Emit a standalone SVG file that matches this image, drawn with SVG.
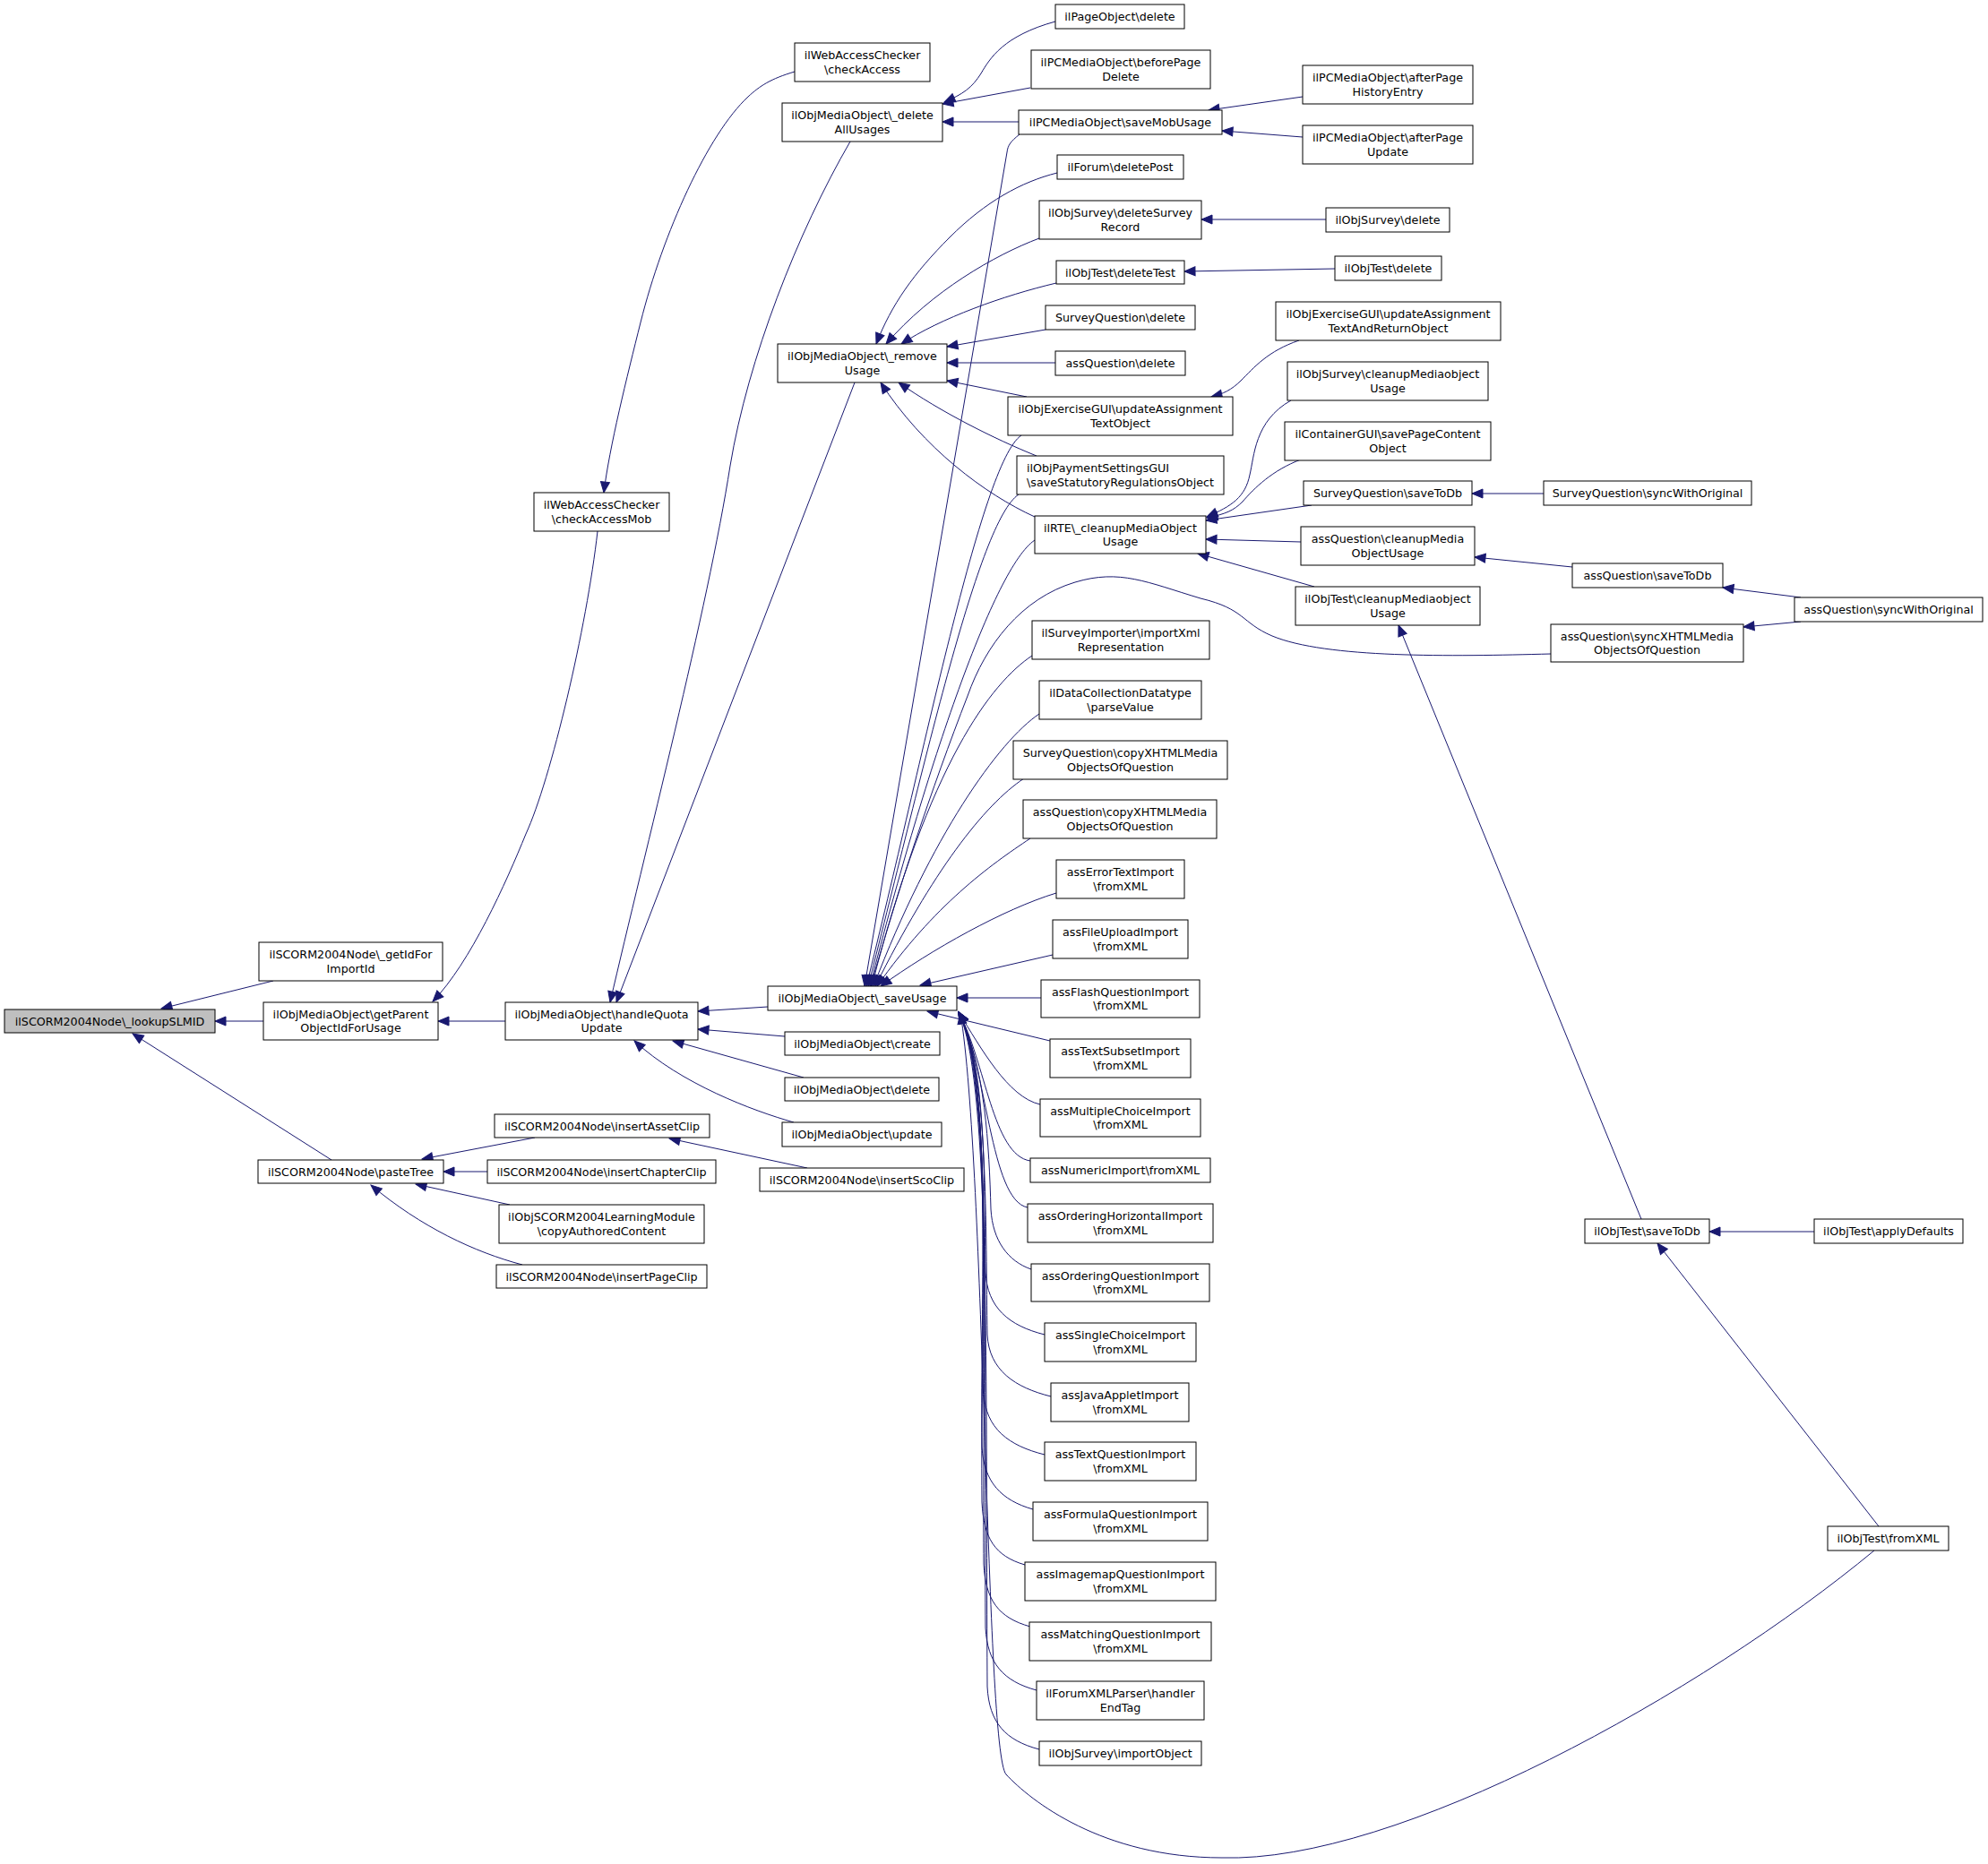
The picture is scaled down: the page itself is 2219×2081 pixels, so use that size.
<svg xmlns="http://www.w3.org/2000/svg" width="2219" height="2081" viewBox="0 0 2219 2081">
<style>
.n rect{fill:#fff;stroke:#000;stroke-width:1}
.n text{font-family:"DejaVu Sans",sans-serif;font-size:12.7px;text-anchor:middle;fill:#000}
.n text.l{text-anchor:start}
.e path{fill:none;stroke:#191970;stroke-width:1;marker-end:url(#ah)}
</style>
<defs>
<marker id="ah" markerUnits="userSpaceOnUse" markerWidth="14" markerHeight="12" refX="12" refY="5" orient="auto" overflow="visible">
<path d="M0,0 L12,5 L0,10 Z" fill="#191970" stroke="#191970" stroke-width="1"/>
</marker>
</defs>
<rect x="0" y="0" width="2219" height="2081" fill="#fff"/>
<g id="edges" class="e">
<path d="M305,1095 L180,1126"/>
<path d="M294,1140 L240,1140"/>
<path d="M370,1295 L148,1154"/>
<path d="M667,593 C655,700 615,870 587,931 C565,985 525,1075 483,1118"/>
<path d="M564,1140 L489,1140"/>
<path d="M597,1270 L471,1294"/>
<path d="M544,1308 L495,1308"/>
<path d="M569,1345 L464,1322"/>
<path d="M583,1412 C530,1398 470,1370 414,1323"/>
<path d="M887,80 C860,88 848,96 835,108 C790,150 740,260 715,360 C700,420 680,500 674,550"/>
<path d="M949,158 C890,260 835,400 815,520 C790,680 720,950 681,1119"/>
<path d="M954,427 L688,1119"/>
<path d="M857,1124 L779,1129"/>
<path d="M876,1157 L779,1149"/>
<path d="M897,1203 L751,1162"/>
<path d="M886,1253 C840,1240 760,1210 708,1162"/>
<path d="M901,1304 L747,1271"/>
<path d="M1178,24 C1120,40 1105,65 1095,82 C1085,98 1075,105 1054,114"/>
<path d="M1150,98 L1052,116"/>
<path d="M1137,136 L1052,136"/>
<path d="M1454,108 L1349,123"/>
<path d="M1454,153 L1364,146"/>
<path d="M1180,193 C1140,203 1100,225 1060,265 C1020,305 995,340 978,384"/>
<path d="M1160,266 C1110,285 1040,325 989,384"/>
<path d="M1179,316 C1120,330 1050,355 1006,384"/>
<path d="M1167,368 L1057,387"/>
<path d="M1178,405 L1057,405"/>
<path d="M1146,443 L1057,425"/>
<path d="M1157,509 C1110,490 1050,460 1003,427"/>
<path d="M1155,577 C1100,552 1030,500 983,427"/>
<path d="M1480,245 L1341,245"/>
<path d="M1490,300 L1322,303"/>
<path d="M1450,380 C1415,392 1400,410 1385,425 C1375,435 1365,440 1352,443"/>
<path d="M1441,447 C1400,470 1400,510 1395,530 C1390,555 1375,565 1347,577"/>
<path d="M1452,513 C1420,525 1400,545 1387,560 C1377,570 1368,574 1347,578"/>
<path d="M1464,564 L1346,581"/>
<path d="M1452,605 L1346,602"/>
<path d="M1467,655 L1337,618"/>
<path d="M1723,551 L1643,551"/>
<path d="M1755,633 L1646,622"/>
<path d="M2010,667 L1923,656"/>
<path d="M2010,694 L1946,700"/>
<path d="M1731,730 C1620,733 1480,735 1420,710 C1385,695 1390,680 1340,668 C1280,650 1250,635 1200,650 C1140,668 1100,720 1080,777 C1040,880 1000,1000 972,1101"/>
<path d="M1832,1361 L1561,698"/>
<path d="M2025,1375 L1908,1375"/>
<path d="M2097,1704 L1850,1388"/>
<path d="M2092,1731 C1900,1890 1560,2080 1364,2074 C1230,2074 1150,2010 1123,1981 C1100,1955 1100,1300 1072,1131"/>
<path d="M1138,150 C1128,158 1125,162 1124,170 L965,1101"/>
<path d="M1140,486 C1095,516 1030,850 967,1101"/>
<path d="M1137,552 C1092,582 1033,851 969,1101"/>
<path d="M1155,603 C1110,633 1035,851 971,1101"/>
<path d="M1152,732 C1107,762 1037,851 973,1101"/>
<path d="M1160,797 C1115,827 1039,934 975,1101"/>
<path d="M1143,869 C1098,899 1041,973 977,1101"/>
<path d="M1150,936 C1105,966 1043,1010 979,1101"/>
<path d="M1179,997 C1120,1015 1040,1060 983,1101"/>
<path d="M1175,1066 L1027,1100"/>
<path d="M1162,1114 L1068,1114"/>
<path d="M1172,1162 L1035,1129"/>
<path d="M1161,1233 C1125,1225 1095,1170 1070,1130"/>
<path d="M1150,1296 C1108,1290 1100,1185 1070,1130"/>
<path d="M1147,1348 C1105,1340 1102,1190 1070,1130"/>
<path d="M1151,1417 C1125,1408 1108,1385 1106,1350 C1104,1280 1100,1190 1070,1130"/>
<path d="M1166,1490 C1126,1480 1102,1460 1100,1420 C1098,1320 1102,1190 1070,1130"/>
<path d="M1173,1559 C1133,1549 1104,1530 1102,1490 C1100,1380 1104,1190 1070,1130"/>
<path d="M1166,1624 C1126,1614 1100,1595 1098,1555 C1096,1420 1106,1195 1070,1130"/>
<path d="M1153,1685 C1118,1675 1098,1655 1096,1615 C1094,1450 1108,1200 1070,1130"/>
<path d="M1144,1747 C1110,1737 1098,1717 1096,1677 C1094,1480 1110,1200 1070,1130"/>
<path d="M1150,1816 C1114,1806 1100,1786 1098,1746 C1096,1500 1110,1205 1070,1130"/>
<path d="M1157,1887 C1120,1877 1102,1857 1100,1817 C1098,1520 1108,1205 1070,1130"/>
<path d="M1160,1953 C1122,1943 1104,1923 1102,1883 C1100,1540 1106,1205 1070,1130"/>
</g>
<g id="n_lookupSLMID" class="n"><rect x="5" y="1127" width="235" height="26" style="fill:#bfbfbf"/><text x="122.5" y="1144.5">ilSCORM2004Node\_lookupSLMID</text></g>
<g id="n_getIdForImportId" class="n"><rect x="289" y="1052" width="205" height="43"/><text x="391.5" y="1070">ilSCORM2004Node\_getIdFor</text><text x="391.5" y="1085.5">ImportId</text></g>
<g id="n_getParentObjectIdForUsage" class="n"><rect x="294" y="1119" width="195" height="42"/><text x="391.5" y="1136.5">ilObjMediaObject\getParent</text><text x="391.5" y="1152">ObjectIdForUsage</text></g>
<g id="n_pasteTree" class="n"><rect x="288" y="1295" width="207" height="26"/><text x="391.5" y="1312.5">ilSCORM2004Node\pasteTree</text></g>
<g id="n_checkAccessMob" class="n"><rect x="596" y="550" width="151" height="43"/><text x="671.5" y="568">ilWebAccessChecker</text><text x="671.5" y="583.5">\checkAccessMob</text></g>
<g id="n_handleQuotaUpdate" class="n"><rect x="564" y="1119" width="215" height="42"/><text x="671.5" y="1136.5">ilObjMediaObject\handleQuota</text><text x="671.5" y="1152">Update</text></g>
<g id="n_insertAssetClip" class="n"><rect x="552" y="1244" width="240" height="26"/><text x="672" y="1261.5">ilSCORM2004Node\insertAssetClip</text></g>
<g id="n_insertChapterClip" class="n"><rect x="544" y="1295" width="255" height="26"/><text x="671.5" y="1312.5">ilSCORM2004Node\insertChapterClip</text></g>
<g id="n_copyAuthoredContent" class="n"><rect x="557" y="1345" width="229" height="43"/><text x="671.5" y="1363">ilObjSCORM2004LearningModule</text><text x="671.5" y="1378.5">\copyAuthoredContent</text></g>
<g id="n_insertPageClip" class="n"><rect x="554" y="1412" width="235" height="26"/><text x="671.5" y="1429.5">ilSCORM2004Node\insertPageClip</text></g>
<g id="n_checkAccess" class="n"><rect x="887" y="48" width="151" height="43"/><text x="962.5" y="66">ilWebAccessChecker</text><text x="962.5" y="81.5">\checkAccess</text></g>
<g id="n_deleteAllUsages" class="n"><rect x="873" y="115" width="179" height="43"/><text x="962.5" y="133">ilObjMediaObject\_delete</text><text x="962.5" y="148.5">AllUsages</text></g>
<g id="n_removeUsage" class="n"><rect x="868" y="384" width="189" height="43"/><text x="962.5" y="402">ilObjMediaObject\_remove</text><text x="962.5" y="417.5">Usage</text></g>
<g id="n_saveUsage" class="n"><rect x="857" y="1101" width="211" height="27"/><text x="962.5" y="1119">ilObjMediaObject\_saveUsage</text></g>
<g id="n_create" class="n"><rect x="876" y="1152" width="173" height="26"/><text x="962.5" y="1169.5">ilObjMediaObject\create</text></g>
<g id="n_mobdelete" class="n"><rect x="876" y="1203" width="172" height="26"/><text x="962" y="1220.5">ilObjMediaObject\delete</text></g>
<g id="n_update" class="n"><rect x="873" y="1253" width="178" height="27"/><text x="962" y="1271">ilObjMediaObject\update</text></g>
<g id="n_insertScoClip" class="n"><rect x="848" y="1304" width="228" height="26"/><text x="962" y="1321.5">ilSCORM2004Node\insertScoClip</text></g>
<g id="n_pageObjectDelete" class="n"><rect x="1178" y="5" width="144" height="27"/><text x="1250" y="23">ilPageObject\delete</text></g>
<g id="n_beforePageDelete" class="n"><rect x="1151" y="56" width="200" height="43"/><text x="1251" y="74">ilPCMediaObject\beforePage</text><text x="1251" y="89.5">Delete</text></g>
<g id="n_saveMobUsage" class="n"><rect x="1137" y="123" width="227" height="27"/><text x="1250.5" y="141">ilPCMediaObject\saveMobUsage</text></g>
<g id="n_deletePost" class="n"><rect x="1180" y="173" width="141" height="27"/><text x="1250.5" y="191">ilForum\deletePost</text></g>
<g id="n_deleteSurveyRecord" class="n"><rect x="1160" y="224" width="181" height="43"/><text x="1250.5" y="242">ilObjSurvey\deleteSurvey</text><text x="1250.5" y="257.5">Record</text></g>
<g id="n_deleteTest" class="n"><rect x="1179" y="291" width="143" height="26"/><text x="1250.5" y="308.5">ilObjTest\deleteTest</text></g>
<g id="n_surveyQuestionDelete" class="n"><rect x="1167" y="341" width="167" height="27"/><text x="1250.5" y="359">SurveyQuestion\delete</text></g>
<g id="n_assQuestionDelete" class="n"><rect x="1178" y="392" width="145" height="27"/><text x="1250.5" y="410">assQuestion\delete</text></g>
<g id="n_updateAssignmentTextObject" class="n"><rect x="1125" y="443" width="251" height="43"/><text x="1250.5" y="461">ilObjExerciseGUI\updateAssignment</text><text x="1250.5" y="476.5">TextObject</text></g>
<g id="n_paymentSettings" class="n"><rect x="1135" y="509" width="231" height="43"/><text class="l" x="1146" y="527">ilObjPaymentSettingsGUI</text><text class="l" x="1146" y="542.5">\saveStatutoryRegulationsObject</text></g>
<g id="n_rteCleanup" class="n"><rect x="1155" y="576" width="191" height="42"/><text x="1250.5" y="593.5">ilRTE\_cleanupMediaObject</text><text x="1250.5" y="609">Usage</text></g>
<g id="n_surveyImporter" class="n"><rect x="1152" y="693" width="198" height="43"/><text x="1251" y="711">ilSurveyImporter\importXml</text><text x="1251" y="726.5">Representation</text></g>
<g id="n_dataCollection" class="n"><rect x="1160" y="760" width="181" height="43"/><text x="1250.5" y="778">ilDataCollectionDatatype</text><text x="1250.5" y="793.5">\parseValue</text></g>
<g id="n_sqCopyXHTML" class="n"><rect x="1131" y="827" width="239" height="43"/><text x="1250.5" y="845">SurveyQuestion\copyXHTMLMedia</text><text x="1250.5" y="860.5">ObjectsOfQuestion</text></g>
<g id="n_aqCopyXHTML" class="n"><rect x="1142" y="893" width="216" height="43"/><text x="1250" y="911">assQuestion\copyXHTMLMedia</text><text x="1250" y="926.5">ObjectsOfQuestion</text></g>
<g id="n_assErrorText" class="n"><rect x="1179" y="960" width="143" height="43"/><text x="1250.5" y="978">assErrorTextImport</text><text x="1250.5" y="993.5">\fromXML</text></g>
<g id="n_assFileUpload" class="n"><rect x="1175" y="1027" width="151" height="43"/><text x="1250.5" y="1045">assFileUploadImport</text><text x="1250.5" y="1060.5">\fromXML</text></g>
<g id="n_assFlash" class="n"><rect x="1162" y="1094" width="177" height="42"/><text x="1250.5" y="1111.5">assFlashQuestionImport</text><text x="1250.5" y="1127">\fromXML</text></g>
<g id="n_assTextSubset" class="n"><rect x="1172" y="1160" width="157" height="43"/><text x="1250.5" y="1178">assTextSubsetImport</text><text x="1250.5" y="1193.5">\fromXML</text></g>
<g id="n_assMultipleChoice" class="n"><rect x="1161" y="1227" width="179" height="42"/><text x="1250.5" y="1244.5">assMultipleChoiceImport</text><text x="1250.5" y="1260">\fromXML</text></g>
<g id="n_assNumeric" class="n"><rect x="1150" y="1293" width="201" height="27"/><text x="1250.5" y="1311">assNumericImport\fromXML</text></g>
<g id="n_assOrderingHorizontal" class="n"><rect x="1147" y="1344" width="207" height="43"/><text x="1250.5" y="1362">assOrderingHorizontalImport</text><text x="1250.5" y="1377.5">\fromXML</text></g>
<g id="n_assOrderingQuestion" class="n"><rect x="1151" y="1411" width="199" height="42"/><text x="1250.5" y="1428.5">assOrderingQuestionImport</text><text x="1250.5" y="1444">\fromXML</text></g>
<g id="n_assSingleChoice" class="n"><rect x="1166" y="1477" width="169" height="43"/><text x="1250.5" y="1495">assSingleChoiceImport</text><text x="1250.5" y="1510.5">\fromXML</text></g>
<g id="n_assJavaApplet" class="n"><rect x="1173" y="1544" width="154" height="43"/><text x="1250" y="1562">assJavaAppletImport</text><text x="1250" y="1577.5">\fromXML</text></g>
<g id="n_assTextQuestion" class="n"><rect x="1166" y="1610" width="169" height="43"/><text x="1250.5" y="1628">assTextQuestionImport</text><text x="1250.5" y="1643.5">\fromXML</text></g>
<g id="n_assFormula" class="n"><rect x="1153" y="1677" width="195" height="43"/><text x="1250.5" y="1695">assFormulaQuestionImport</text><text x="1250.5" y="1710.5">\fromXML</text></g>
<g id="n_assImagemap" class="n"><rect x="1144" y="1744" width="213" height="43"/><text x="1250.5" y="1762">assImagemapQuestionImport</text><text x="1250.5" y="1777.5">\fromXML</text></g>
<g id="n_assMatching" class="n"><rect x="1149" y="1811" width="203" height="43"/><text x="1250.5" y="1829">assMatchingQuestionImport</text><text x="1250.5" y="1844.5">\fromXML</text></g>
<g id="n_forumXMLParser" class="n"><rect x="1157" y="1877" width="187" height="43"/><text x="1250.5" y="1895">ilForumXMLParser\handler</text><text x="1250.5" y="1910.5">EndTag</text></g>
<g id="n_surveyImportObject" class="n"><rect x="1160" y="1944" width="181" height="27"/><text x="1250.5" y="1962">ilObjSurvey\importObject</text></g>
<g id="n_afterPageHistoryEntry" class="n"><rect x="1454" y="73" width="190" height="43"/><text x="1549" y="91">ilPCMediaObject\afterPage</text><text x="1549" y="106.5">HistoryEntry</text></g>
<g id="n_afterPageUpdate" class="n"><rect x="1454" y="140" width="190" height="43"/><text x="1549" y="158">ilPCMediaObject\afterPage</text><text x="1549" y="173.5">Update</text></g>
<g id="n_surveyDelete" class="n"><rect x="1480" y="232" width="138" height="27"/><text x="1549" y="250">ilObjSurvey\delete</text></g>
<g id="n_testDelete" class="n"><rect x="1490" y="286" width="119" height="27"/><text x="1549.5" y="304">ilObjTest\delete</text></g>
<g id="n_updateAssignmentTextAndReturn" class="n"><rect x="1424" y="337" width="251" height="43"/><text x="1549.5" y="355">ilObjExerciseGUI\updateAssignment</text><text x="1549.5" y="370.5">TextAndReturnObject</text></g>
<g id="n_surveyCleanup" class="n"><rect x="1437" y="404" width="224" height="43"/><text x="1549" y="422">ilObjSurvey\cleanupMediaobject</text><text x="1549" y="437.5">Usage</text></g>
<g id="n_containerGUI" class="n"><rect x="1434" y="471" width="230" height="43"/><text x="1549" y="489">ilContainerGUI\savePageContent</text><text x="1549" y="504.5">Object</text></g>
<g id="n_sqSaveToDb" class="n"><rect x="1455" y="537" width="188" height="27"/><text x="1549" y="555">SurveyQuestion\saveToDb</text></g>
<g id="n_aqCleanupMedia" class="n"><rect x="1452" y="588" width="194" height="43"/><text x="1549" y="606">assQuestion\cleanupMedia</text><text x="1549" y="621.5">ObjectUsage</text></g>
<g id="n_testCleanup" class="n"><rect x="1446" y="655" width="206" height="43"/><text x="1549" y="673">ilObjTest\cleanupMediaobject</text><text x="1549" y="688.5">Usage</text></g>
<g id="n_sqSyncWithOriginal" class="n"><rect x="1723" y="537" width="232" height="27"/><text x="1839" y="555">SurveyQuestion\syncWithOriginal</text></g>
<g id="n_aqSaveToDb" class="n"><rect x="1755" y="629" width="168" height="27"/><text x="1839" y="647">assQuestion\saveToDb</text></g>
<g id="n_aqSyncXHTML" class="n"><rect x="1731" y="697" width="215" height="42"/><text x="1838.5" y="714.5">assQuestion\syncXHTMLMedia</text><text x="1838.5" y="730">ObjectsOfQuestion</text></g>
<g id="n_aqSyncWithOriginal" class="n"><rect x="2003" y="667" width="210" height="27"/><text x="2108" y="685">assQuestion\syncWithOriginal</text></g>
<g id="n_testSaveToDb" class="n"><rect x="1769" y="1361" width="139" height="27"/><text x="1838.5" y="1379">ilObjTest\saveToDb</text></g>
<g id="n_testApplyDefaults" class="n"><rect x="2025" y="1361" width="166" height="27"/><text x="2108" y="1379">ilObjTest\applyDefaults</text></g>
<g id="n_testFromXML" class="n"><rect x="2040" y="1704" width="135" height="27"/><text x="2107.5" y="1722">ilObjTest\fromXML</text></g>
</svg>
